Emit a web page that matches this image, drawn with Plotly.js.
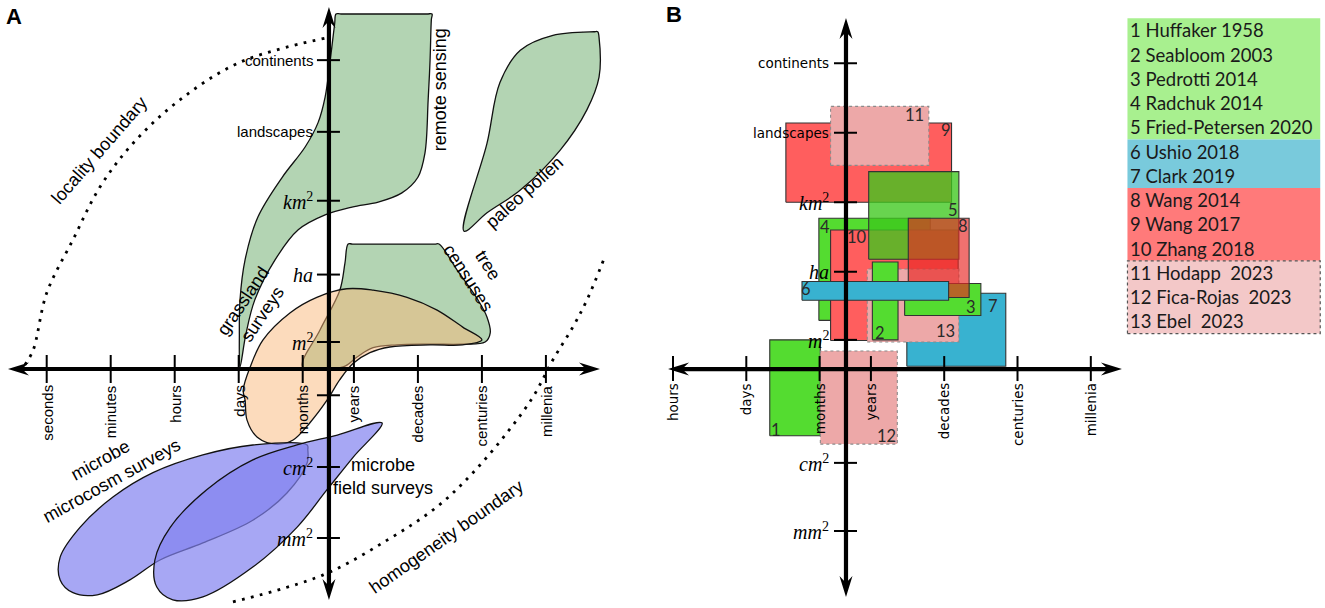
<!DOCTYPE html>
<html><head><meta charset="utf-8">
<script src="https://cdn.plot.ly/plotly-3.0.1.min.js"></script>
<style>html,body{margin:0;padding:0;background:#fff}#chart{width:1325px;height:608px}</style>
</head><body><div id="chart"></div>
<script>
// ================= DATA =================
// Panel A axes (ordinal log-like scales)
const aTimeLabels = ["seconds","minutes","hours","days","months","years","decades","centuries","millenia"];
const aTimePos    = [0, 1, 2, 3, 4, 4.8, 5.8, 6.8, 7.8];
const aSpaceLabels = ["<i>mm</i><sup>2</sup>","<i>cm</i><sup>2</sup>","","<i>m</i><sup>2</sup>","<i>ha</i>","<i>km</i><sup>2</sup>","landscapes","continents"];
const aSpacePos    = [0, 1, 2.01, 2.76, 3.71, 4.75, 5.72, 6.73];

// Panel A regions (x = time scale, y = space scale)
const remoteX = [4.52,4.60,5.94,6.02,6.01,5.99,5.96,5.91,5.80,5.55,5.18,4.77,4.35,3.93,3.57,3.25,3.11,3.02,3.01,3.02,3.10,3.30,3.68,4.04,4.24,4.35,4.43,4.50,4.52];
const remoteY = [7.38,7.38,7.38,7.38,7.30,6.73,6.17,5.42,5.08,4.86,4.73,4.66,4.55,4.34,3.92,3.35,2.86,2.41,2.86,3.35,3.92,4.52,5.08,5.51,5.85,6.21,6.73,7.25,7.38];
const pollenX = [6.52,6.88,7.08,7.40,7.91,8.55,8.61,8.63,8.63,8.44,8.02,7.40,6.88,6.52];
const pollenY = [4.32,5.56,6.41,6.87,7.08,7.13,7.13,7.05,6.49,6.03,5.46,4.90,4.58,4.32];
const treeX = [4.71,4.78,6.06,6.13,6.43,6.74,6.88,6.93,6.85,6.50,5.99,5.47,5.10,4.85,4.63,4.00,4.27,4.58,4.66,4.71];
const treeY = [4.14,4.14,4.14,4.14,3.75,3.35,3.11,2.89,2.76,2.73,2.73,2.72,2.68,2.55,2.41,2.41,2.93,3.49,3.87,4.14];
const orangeX = [3.18,3.38,3.80,4.22,4.69,5.10,5.63,6.10,6.50,6.80,6.50,5.99,5.36,5.05,4.79,4.58,4.38,4.11,3.85,3.60,3.29,3.13,3.10,3.07,3.18];
const orangeY = [2.41,2.79,3.17,3.39,3.51,3.49,3.39,3.21,2.97,2.79,2.72,2.72,2.69,2.61,2.46,2.23,1.94,1.62,1.38,1.32,1.42,1.66,1.94,2.08,2.41];
const microcosmX = [4.07,3.22,2.44,1.66,1.04,0.52,0.21,0.21,0.41,0.79,1.30,1.77,2.44,3.22,3.75,4.07,4.08,4.07];
const microcosmY = [1.31,1.31,1.17,0.92,0.58,0.15,-0.27,-0.59,-0.77,-0.80,-0.59,-0.31,-0.07,0.25,0.63,1.06,1.24,1.31];
const fieldX = [5.24,4.54,3.91,3.22,2.50,1.93,1.69,1.72,1.97,2.44,3.22,3.91,4.38,4.79,5.24];
const fieldY = [1.62,1.45,1.31,1.10,0.68,0.15,-0.31,-0.69,-0.87,-0.83,-0.41,0.15,0.68,1.14,1.62];
const localityX = [-0.34,-0.21,0.00,0.41,0.83,1.35,2.08,3.02,4.35];
const localityY = [2.44,2.65,3.45,4.20,4.94,5.56,6.17,6.70,7.04];
const homogX = [2.91,4.32,5.32,6.10,6.66,7.19,7.60,7.91,8.22,8.44,8.72];
const homogY = [-0.90,-0.52,-0.03,0.44,0.92,1.48,1.99,2.51,2.97,3.35,3.96];

// Panel B axes
const bTimeLabels = ["hours","days","months","years","decades","centuries","millenia"];
const bTimePos    = [0, 1, 2, 2.7, 3.7, 4.7, 5.7];
const bSpaceLabels = ["<i>mm</i><sup>2</sup>","<i>cm</i><sup>2</sup>","<i>m</i><sup>2</sup>","<i>ha</i>","<i>km</i><sup>2</sup>","landscapes","continents"];
const bSpacePos    = [0, 0.98, 2.75, 3.73, 4.73, 5.73, 6.73];

// Panel B studies
const studyNum   = [1,2,3,4,5,6,7,8,9,10,11,12,13];
const studyName  = ["Huffaker 1958","Seabloom 2003","Pedrotti 2014","Radchuk 2014","Fried-Petersen 2020","Ushio 2018","Clark 2019","Wang 2014","Wang 2017","Zhang 2018","Hodapp  2023","Fica-Rojas  2023","Ebel  2023"];
const studyGroup = ["green","green","green","green","green","blue","blue","red","red","red","pink","pink","pink"];
const studyT0 = [1.32,2.72,3.16,1.99,2.67,1.76,3.19,3.21,1.54,2.15,2.15,2.01,2.65];
const studyT1 = [2.01,3.07,4.20,3.51,3.90,3.76,4.54,4.04,3.80,3.89,3.49,3.06,3.90];
const studyS0 = [1.37,2.75,3.10,3.03,3.91,3.32,2.37,3.36,4.73,2.74,5.26,1.25,2.72];
const studyS1 = [2.75,3.87,3.56,4.50,5.17,3.59,3.42,4.50,5.87,4.33,6.11,2.59,3.77];
const drawOrder = [9,11,7,4,10,13,5,3,8,2,6,1,12];
// label anchor positions for the study numbers
const numLabelX = [1.41,2.82,4.07,2.08,3.82,1.82,4.37,3.96,3.72,2.51,3.30,2.91,3.72];
const numLabelY = [1.45,2.85,3.22,4.38,4.62,3.48,3.24,4.39,5.77,4.23,5.99,1.36,2.88];

// ================= STYLES =================
const W = 1325, H = 608;
const A = {xr:'x', yr:'y', dom:[0, 632/W], xrange:[-0.7297, 9.145], yrange:[-0.986, 7.577]};
const B = {xr:'x2', yr:'y2', dom:[640/W, 1], xrange:[-0.4502, 8.895], yrange:[-1.108, 7.640]};
[A,B].forEach(p=>{
  p.kx = (p.dom[1]-p.dom[0])*W/(p.xrange[1]-p.xrange[0]);
  p.ky = H/(p.yrange[1]-p.yrange[0]);
});
A.axX = 4.41; A.axY = 2.38; A.tL = -0.605; A.tR = 8.645; A.sB = -0.873; A.sT = 7.48;
B.axX = 2.36; B.axY = 2.33; B.tL = -0.068; B.tR = 6.125; B.sB = -0.95; B.sT = 7.38;

const groupFill = {green:'#54dc30', blue:'#38b2d0', red:'#ff5e5e', pink:'#eda8a8'};
const groupLegendFill = {green:'#a8f08f', blue:'#79cadc', red:'#ff7a7a', pink:'#f3c8c8'};
const fillOverride = {5:'rgba(62,200,30,0.78)', 8:'rgba(232,40,36,0.66)'};

const shapes = [], annotations = [], traces = [];

function arrowAxis(p, x0, y0, x1, y1){
  const L = 21, w = 6.5, n = 7;
  let dx = (x1-x0)*p.kx, dy = (y1-y0)*p.ky;
  const len = Math.hypot(dx,dy); const ux = dx/len, uy = dy/len;
  const px = -uy, py = ux;
  function head(tx, ty, sx, sy){
    const pts = [[0,0],[-L*sx + w*px, -L*sy + w*py],[-(L-n)*sx, -(L-n)*sy],[-L*sx - w*px, -L*sy - w*py]];
    return 'M' + pts.map(q => (tx + q[0]/p.kx) + ',' + (ty + q[1]/p.ky)).join(' L') + ' Z';
  }
  shapes.push({type:'path', xref:p.xr, yref:p.yr, path:head(x1,y1,ux,uy), fillcolor:'#000', line:{width:0}});
  shapes.push({type:'path', xref:p.xr, yref:p.yr, path:head(x0,y0,-ux,-uy), fillcolor:'#000', line:{width:0}});
  shapes.push({type:'line', xref:p.xr, yref:p.yr,
    x0: x0 + (L-n-1)*ux/p.kx, y0: y0 + (L-n-1)*uy/p.ky,
    x1: x1 - (L-n-1)*ux/p.kx, y1: y1 - (L-n-1)*uy/p.ky, line:{color:'#000', width:4.2}});
}

function ticksAndLabels(p, tPos, tLab, sPos, sLab, o){
  tPos.forEach((t,i)=>{
    shapes.push({type:'line', xref:p.xr, yref:p.yr, x0:t, x1:t, y0:p.axY - o.tDown/p.ky, y1:p.axY + o.tUp/p.ky, line:{color:'#000', width:2}});
    annotations.push({xref:p.xr, yref:p.yr, x:t, y:p.axY - o.labGap/p.ky, text:tLab[i], showarrow:false,
      textangle:-90, xanchor:'center', yanchor:'top', font:{family:o.font, size:o.size, color:'#000'}, borderpad:0});
  });
  sPos.forEach((s,i)=>{
    shapes.push({type:'line', xref:p.xr, yref:p.yr, y0:s, y1:s, x0:p.axX - o.sLeft/p.kx, x1:p.axX + o.sRight/p.kx, line:{color:'#000', width:2}});
    if (!sLab[i]) return;
    const isMath = sLab[i].indexOf('<i>') >= 0;
    annotations.push({xref:p.xr, yref:p.yr, x:p.axX - o.sGap/p.kx, y:s, text:sLab[i], showarrow:false,
      xanchor:'right', yanchor:'middle', borderpad:0,
      font:{family: isMath ? 'Liberation Serif' : o.font, size: isMath ? 20 : o.size, color:'#000'}});
  });
}

// ---------- Panel A traces ----------
function blob(xs, ys, fill, p, lw){
  traces.push({type:'scatter', mode:'lines', x:xs, y:ys, xaxis:p.xr, yaxis:p.yr,
    fill:'toself', fillcolor:fill, line:{color:'#111', width:lw||1.3, shape:'spline', smoothing:1},
    hoverinfo:'skip', showlegend:false});
}
blob(remoteX, remoteY, '#b3d4b3', A);
blob(pollenX, pollenY, '#b3d4b3', A);
blob(treeX, treeY, '#b3d4b3', A);
blob(orangeX, orangeY, 'rgba(250,184,122,0.5)', A);
blob(microcosmX, microcosmY, 'rgba(130,130,240,0.7)', A);
blob(fieldX, fieldY, 'rgba(130,130,240,0.7)', A);
[[localityX, localityY],[homogX, homogY]].forEach(c=>{
  traces.push({type:'scatter', mode:'lines', x:c[0], y:c[1], xaxis:'x', yaxis:'y',
    line:{color:'#000', width:2.8, dash:'2.8px,6.4px', shape:'spline', smoothing:1}, hoverinfo:'skip', showlegend:false});
});

// Panel A region labels
const fA = {family:'Liberation Sans', size:18, color:'#000'};
[
  {x:0.83, y:5.46, text:'locality boundary', a:-49},
  {x:6.15, y:6.31, text:'remote sensing', a:-90},
  {x:7.47, y:4.87, text:'paleo pollen', a:-42},
  {x:3.22, y:3.24, text:'grassland<br>surveys', a:-56},
  {x:6.74, y:3.75, text:'tree<br>censuses', a:57},
  {x:0.92, y:0.95, text:'microbe<br>microcosm surveys', a:-29},
  {x:5.25, y:0.86, text:'microbe<br>field surveys', a:0},
  {x:6.24, y:0.01, text:'homogeneity boundary', a:-35}
].forEach(l=>annotations.push({xref:'x', yref:'y', x:l.x, y:l.y, text:l.text, textangle:l.a, showarrow:false,
  xanchor:'center', yanchor:'middle', align:'center', font:fA, borderpad:0}));

arrowAxis(A, A.tL, A.axY, A.tR, A.axY);
arrowAxis(A, A.axX, A.sB, A.axX, A.sT);
ticksAndLabels(A, aTimePos, aTimeLabels, aSpacePos, aSpaceLabels,
  {tDown:14, tUp:14, labGap:15, sLeft:12, sRight:11, sGap:15, font:'Liberation Sans', size:15});

// ---------- Panel B traces ----------
drawOrder.forEach(num=>{
  const i = studyNum.indexOf(num);
  const g = studyGroup[i];
  const fill = fillOverride[num] || groupFill[g];
  const pink = g === 'pink';
  traces.push({type:'scatter', mode:'lines', xaxis:'x2', yaxis:'y2',
    x:[studyT0[i], studyT1[i], studyT1[i], studyT0[i], studyT0[i]],
    y:[studyS0[i], studyS0[i], studyS1[i], studyS1[i], studyS0[i]],
    fill:'toself', fillcolor:fill,
    line:{color: pink ? '#8a8a8a' : '#333', width:1.1, dash: pink ? 'dot' : 'solid'},
    hoverinfo:'skip', showlegend:false});
});
studyNum.forEach((n,i)=>annotations.push({xref:'x2', yref:'y2', x:numLabelX[i], y:numLabelY[i], text:String(n),
  showarrow:false, xanchor:'center', yanchor:'middle', borderpad:0, font:{family:'Lato', size:16.5, color:'#2a2a2a'}}));

arrowAxis(B, B.tL, B.axY, B.tR, B.axY);
arrowAxis(B, B.axX, B.sB, B.axX, B.sT);
ticksAndLabels(B, bTimePos, bTimeLabels, bSpacePos, bSpaceLabels,
  {tDown:12, tUp:13, labGap:13, sLeft:12, sRight:11, sGap:16, font:'DejaVu Sans', size:13.5});

// ---------- Panel B legend ----------
const legX0 = 6.20, legX1 = 8.83, legTop = 7.377, rowH = 24.25/B.ky;
let row = 0;
['green','blue','red','pink'].forEach(g=>{
  const n = studyGroup.filter(v=>v===g).length;
  shapes.push({type:'rect', xref:'x2', yref:'y2', layer:'below', x0:legX0, x1:legX1,
    y0:legTop - (row+n)*rowH, y1:legTop - row*rowH, fillcolor:groupLegendFill[g],
    line: g==='pink' ? {color:'#555', width:1.2, dash:'dot'} : {width:0}});
  row += n;
});
studyNum.forEach((n,i)=>annotations.push({xref:'x2', yref:'y2', x:legX0 + 1.5/B.kx, y:legTop - (i+0.5)*rowH,
  text: n + ' ' + studyName[i], showarrow:false, xanchor:'left', yanchor:'middle', borderpad:0,
  font:{family:'Lato', size:18.5, color:'#1a1a1a'}}));

// panel letters
annotations.push({xref:'paper', yref:'paper', x:4/W, y:1-2/H, text:'<b>A</b>', showarrow:false, xanchor:'left', yanchor:'top', font:{family:'Liberation Sans', size:22, color:'#000'}});
annotations.push({xref:'paper', yref:'paper', x:664/W, y:1-0/H, text:'<b>B</b>', showarrow:false, xanchor:'left', yanchor:'top', font:{family:'Liberation Sans', size:22, color:'#000'}});

const ax = (d, r) => ({domain:d, range:r, visible:false, fixedrange:true, showgrid:false, zeroline:false});
const layout = {
  width:W, height:H, margin:{l:0, r:0, t:0, b:0}, paper_bgcolor:'#fff', plot_bgcolor:'rgba(0,0,0,0)',
  showlegend:false,
  xaxis: ax(A.dom, A.xrange), yaxis: Object.assign(ax([0,1], A.yrange), {anchor:'x'}),
  xaxis2: Object.assign(ax(B.dom, B.xrange), {anchor:'y2'}), yaxis2: Object.assign(ax([0,1], B.yrange), {anchor:'x2'}),
  shapes: shapes, annotations: annotations
};
Plotly.newPlot('chart', traces, layout, {staticPlot:true, displayModeBar:false});
</script></body></html>
